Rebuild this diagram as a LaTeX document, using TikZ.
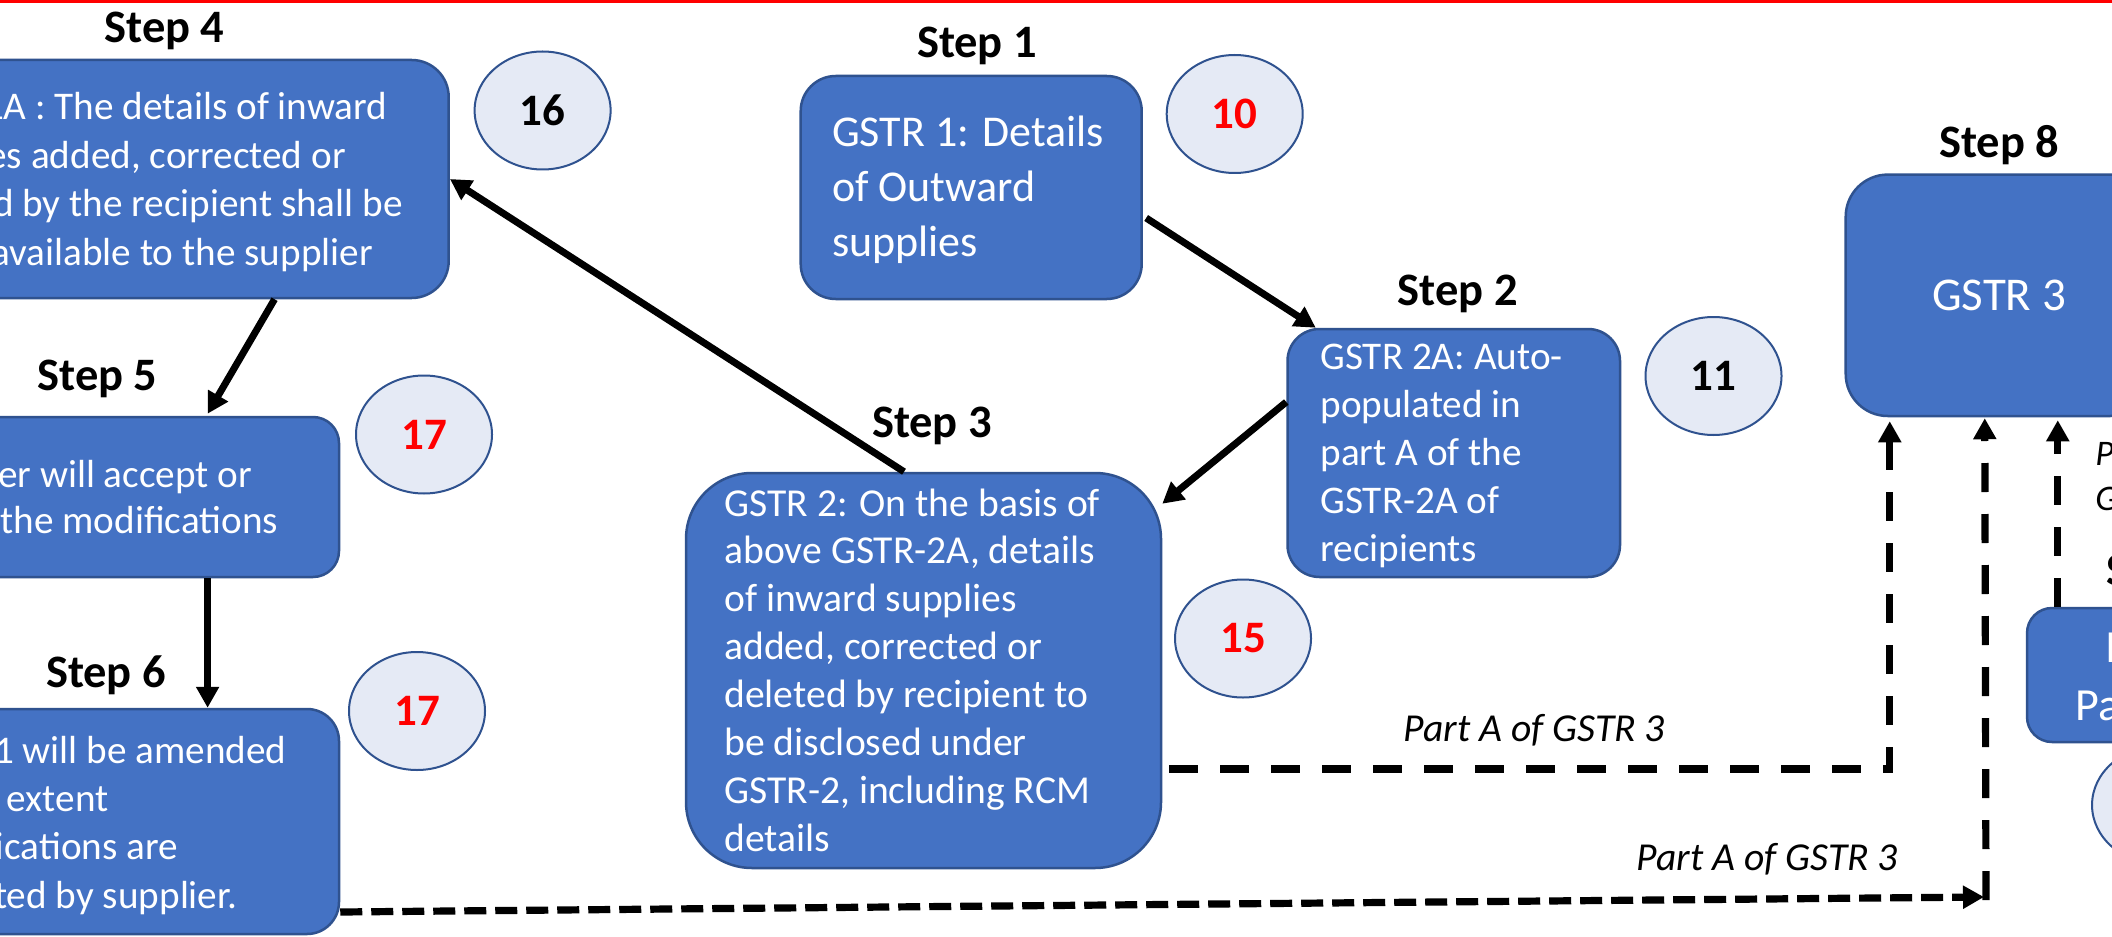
\documentclass[tikz,border=0pt]{standalone}
\usepackage{fontspec}
\setmainfont{Carlito}
\usetikzlibrary{arrows.meta,shapes.geometric,calc}
\definecolor{boxblue}{HTML}{4472C4}
\definecolor{boxedge}{HTML}{2F528F}
\definecolor{circfill}{HTML}{E5EAF5}
\definecolor{numred}{HTML}{FF0000}
\newcommand{\boxlines}[1]{\begin{tabular}[t]{@{}l@{}}#1\end{tabular}}
\tikzset{
 stepbox/.style={rectangle, draw=boxedge, line width=1.25pt, fill=boxblue, inner sep=0pt},
 boxtext/.style={anchor=base west, inner sep=0pt, text=white, font=\fontsize{19.6}{24}\selectfont},
 steplabel/.style={anchor=base, inner sep=0pt, font=\fontsize{23.25}{28}\selectfont\bfseries},
 numcirc/.style={ellipse, draw=boxedge, line width=1pt, fill=circfill, minimum width=68pt, minimum height=59pt, inner sep=0pt, font=\fontsize{22.5}{27}\selectfont\bfseries},
 solidarrow/.style={line width=3.5pt, -{Triangle[length=10.5pt,width=11pt]}},
 dasharrow/.style={line width=3.6pt, dash pattern=on 14.5pt off 11pt, -{Triangle[length=10.5pt,width=11pt]}},
 partlabel/.style={anchor=base west, inner sep=0pt, font=\fontsize{19.8}{24}\selectfont\itshape},
}
\begin{document}
\begin{tikzpicture}[x=0.5pt,y=-0.5pt]
\useasboundingbox (0,0) rectangle (2112,936);
\clip (0,0) rectangle (2112,936);
\fill[white] (0,0) rectangle (2112,936);
\fill[red] (0,0) rectangle (2112,3.5);

% boxes
\node[stepbox, minimum width=289.35pt, minimum height=119pt, rounded corners=18.5pt] (s4) at (159.35,179) {};
\node[stepbox, minimum width=170.5pt, minimum height=111.5pt, rounded corners=17.5pt] (s1) at (971.2,187.5) {};
\node[stepbox, minimum width=166.25pt, minimum height=124pt, rounded corners=16pt] (s2) at (1453.75,453) {};
\node[stepbox, minimum width=237.5pt, minimum height=197.5pt, rounded corners=33pt] (s3) at (923.5,670.5) {};
\node[stepbox, minimum width=232pt, minimum height=80pt, rounded corners=13pt] (s5) at (107,497) {};
\node[stepbox, minimum width=232pt, minimum height=112.5pt, rounded corners=16pt] (s6) at (107,821.5) {};
\node[stepbox, minimum width=153.3pt, minimum height=120.7pt, rounded corners=21pt, text=white, font=\fontsize{23.5}{28}\selectfont] (s8) at (1999,295.3) {GSTR 3};
\node[stepbox, minimum width=150pt, minimum height=67pt, rounded corners=12.5pt] (s9) at (2177,675) {};

% box texts
\node[boxtext, font=\fontsize{19.6}{24.2}\selectfont] (t4) at (-108,120) {\boxlines{GSTR 1A : The details of inward\\supplies added, corrected or\\deleted by the recipient shall be\\made available to the supplier}};
\node[boxtext, font=\fontsize{22}{27.5}\selectfont] (t1) at (831.8,147) {\boxlines{GSTR 1: Details\\of Outward\\supplies}};
\node[boxtext] (t2) at (1320,369) {\boxlines{GSTR 2A: Auto-\\populated in\\part A of the\\GSTR-2A of\\recipients}};
\node[boxtext, font=\fontsize{19.8}{23.95}\selectfont] (t3) at (724,516) {\boxlines{GSTR 2: On the basis of\\above GSTR-2A, details\\of inward supplies\\added, corrected or\\deleted by recipient to\\be disclosed under\\GSTR-2, including RCM\\details}};
\node[boxtext, font=\fontsize{19.6}{23.3}\selectfont] (t5) at (-100,487) {\boxlines{Supplier will accept or\\reject the modifications}};
\node[boxtext, font=\fontsize{19.6}{24.2}\selectfont] (t6) at (-98,763) {\boxlines{GSTR 1 will be amended\\to the extent\\modifications are\\accepted by supplier.}};
\node[boxtext, font=\fontsize{23}{28}\selectfont] (t9a) at (2105,662) {ITC};
\node[boxtext, font=\fontsize{23}{28}\selectfont] (t9b) at (2075,720) {Part B};

% step labels
\node[steplabel] (l4) at (164.5,43) {Step 4};
\node[steplabel] (l1) at (977,58) {Step 1};
\node[steplabel] (l2) at (1457.8,305) {Step 2};
\node[steplabel] (l3) at (932,437) {Step 3};
\node[steplabel] (l5) at (97.5,390) {Step 5};
\node[steplabel] (l6) at (106,687) {Step 6};
\node[steplabel] (l8) at (1999,157.6) {Step 8};
\node[steplabel, anchor=base west] (l9) at (2106,585) {Step 9};

% numbered circles
\node[numcirc] (c16) at (542.6,110.5) {16};
\node[numcirc, text=numred] (c10) at (1234.7,114) {10};
\node[numcirc] (c11) at (1713.5,376) {11};
\node[numcirc, text=numred] (c15) at (1243,638.5) {15};
\node[numcirc, text=numred] (c17a) at (424,434.5) {17};
\node[numcirc, text=numred] (c17b) at (417,711) {17};
\node[numcirc] (c9) at (2160,805) {};

% solid arrows
\draw[solidarrow] ([xshift=1.6pt,yshift=-15.25pt]s1.east) -- ([xshift=14.75pt]s2.north west);
\draw[solidarrow] ([yshift=25.5pt]s2.west) -- ([yshift=-16pt]s3.north east);
\draw[solidarrow] ([xshift=-9.75pt]s3.north) -- (s4.east);
\draw[solidarrow] ([xshift=57.6pt]s4.south) -- ([xshift=50.3pt,yshift=1pt]s5.north);
\draw[solidarrow] ([xshift=50.3pt]s5.south) -- ([xshift=50.3pt]s6.north);

% dashed arrows
\coordinate (b1) at (1984,897);
\coordinate (b0) at (1986,900);
\draw[dasharrow] ([xshift=3.5pt,yshift=-49.25pt]s3.east) -| ([xshift=22.65pt,yshift=-2pt]s8.south west);
\draw[dasharrow, dash pattern=on 11pt off 4.5pt] ([yshift=-45.25pt]s6.east) -- (b1);
\draw[dasharrow] (b0) -- ([xshift=70.15pt,yshift=-0.5pt]s8.south west);
\draw[dasharrow] ([xshift=16pt]s9.north west) -- ([xshift=106.65pt,yshift=-1.5pt]s8.south west);

% connector labels
\node[partlabel] (p1) at (1403,741.7) {Part A of GSTR 3};
\node[partlabel] (p2) at (1636,870) {Part A of GSTR 3};
\node[partlabel, font=\fontsize{18}{22.5}\selectfont\itshape] (p3) at (2095,465) {\boxlines{Part B of\\GSTR 3}};
\end{tikzpicture}
\end{document}
